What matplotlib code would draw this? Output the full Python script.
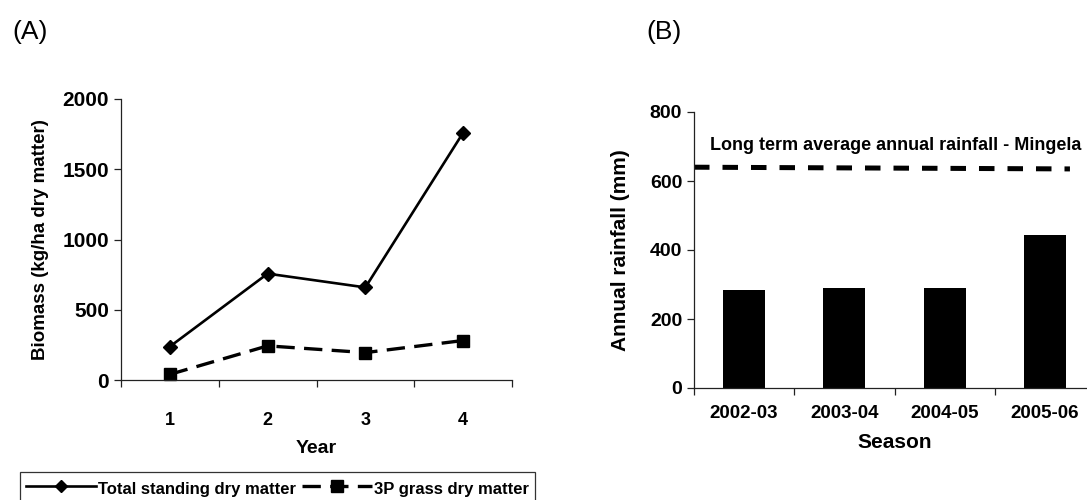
import matplotlib
matplotlib.use("Agg")
import matplotlib.pyplot as plt
from matplotlib.lines import Line2D

plt.rcParams["font.family"] = ["Liberation Sans", "DejaVu Sans"]

# Panel A: biomass by year
years = ["1", "2", "3", "4"]
total_dm = [238, 757, 659, 1760]
grass_3p = [40, 243, 195, 281]

# Panel B: annual rainfall by season
seasons = ["2002-03", "2003-04", "2004-05", "2005-06"]
rainfall = [284, 290, 290, 443]
long_term_avg = [640, 635]

W, H = 1087, 500
fig = plt.figure(figsize=(W / 100, H / 100), dpi=100)


def px_axes(left, top, right, bottom):
    return fig.add_axes([left / W, 1 - bottom / H, (right - left) / W, (bottom - top) / H])


def style_axes(ax):
    for side in ("top", "right"):
        ax.spines[side].set_visible(False)
    for side in ("left", "bottom"):
        ax.spines[side].set_linewidth(0.9)
        ax.spines[side].set_color("#222222")
    ax.tick_params(axis="both", direction="out", length=5, width=0.9, color="#222222")


# ---- (A) ----
ax1 = px_axes(121, 99, 512, 380)
style_axes(ax1)
xs = range(len(years))
ax1.plot(xs, total_dm, color="black", lw=1.9, marker="D", ms=7, mfc="black", mec="black",
         label="Total standing dry matter", clip_on=False)
ax1.plot(xs, grass_3p, color="black", lw=2.4, ls=(0, (5.5, 2.8)), marker="s", ms=9,
         mfc="black", mec="black", label="3P grass dry matter", clip_on=False)
ax1.set_xlim(-0.5, 3.5)
ax1.set_ylim(0, 2000)
ax1.set_yticks([0, 500, 1000, 1500, 2000])
ax1.set_yticklabels(["0", "500", "1000", "1500", "2000"], fontsize=15, fontweight="bold")
ax1.set_xticks([-0.5, 0.5, 1.5, 2.5, 3.5])
ax1.set_xticklabels([])
ax1.set_xticks(list(xs), minor=True)
ax1.set_xticklabels(years, minor=True, fontsize=13, fontweight="bold")
ax1.tick_params(axis="x", which="minor", length=0, pad=23)
ax1.set_xlabel("Year", fontsize=14, fontweight="bold", labelpad=8)
ax1.set_ylabel("Biomass (kg/ha dry matter)", fontsize=13.5, fontweight="bold", labelpad=10)

# legend sits below panel A and runs off the bottom edge
handles = [
    Line2D([], [], color="black", lw=1.9, marker="D", ms=6),
    Line2D([], [], color="black", lw=2.4, ls=(0, (5.5, 2.8)), marker="s", ms=8),
]
leg = fig.legend(handles, ["Total standing dry matter", "3P grass dry matter"],
                 loc="upper left", bbox_to_anchor=(20 / W, 1 - 472 / H), ncol=2,
                 fancybox=False, edgecolor="#333333", framealpha=1,
                 prop={"size": 12, "weight": "bold"}, handlelength=4.2, handleheight=1.7,
                 handletextpad=0.1, columnspacing=0.4, borderpad=0.35, borderaxespad=0)
leg.get_frame().set_linewidth(0.9)

# panel letters
fig.text(12 / W, 1 - 32 / H, "(A)", fontsize=19, va="center", ha="left")
fig.text(646 / W, 1 - 32 / H, "(B)", fontsize=19, va="center", ha="left")

# ---- (B) ----
ax2 = px_axes(694, 112, 1095, 388)
style_axes(ax2)
bx = range(len(seasons))
ax2.bar(bx, rainfall, width=0.42, color="black")
ax2.plot([-0.5, 3.25], long_term_avg, color="black", lw=3.6, ls=(0, (3.1, 2.6)))
ax2.text(-0.34, 704, "Long term average annual rainfall - Mingela", fontsize=13,
         fontweight="bold", ha="left", va="center")
ax2.set_xlim(-0.5, 3.5)
ax2.set_ylim(0, 800)
ax2.set_yticks([0, 200, 400, 600, 800])
ax2.set_yticklabels(["0", "200", "400", "600", "800"], fontsize=14, fontweight="bold")
ax2.set_xticks([-0.5, 0.5, 1.5, 2.5, 3.5])
ax2.set_xticklabels([])
ax2.set_xticks(list(bx), minor=True)
ax2.set_xticklabels(seasons, minor=True, fontsize=13.5, fontweight="bold")
ax2.tick_params(axis="x", which="minor", length=0, pad=12)
ax2.set_xlabel("Season", fontsize=15, fontweight="bold", labelpad=8)
ax2.set_ylabel("Annual rainfall (mm)", fontsize=15, fontweight="bold", labelpad=14)

fig.savefig("out.png", dpi=100)
